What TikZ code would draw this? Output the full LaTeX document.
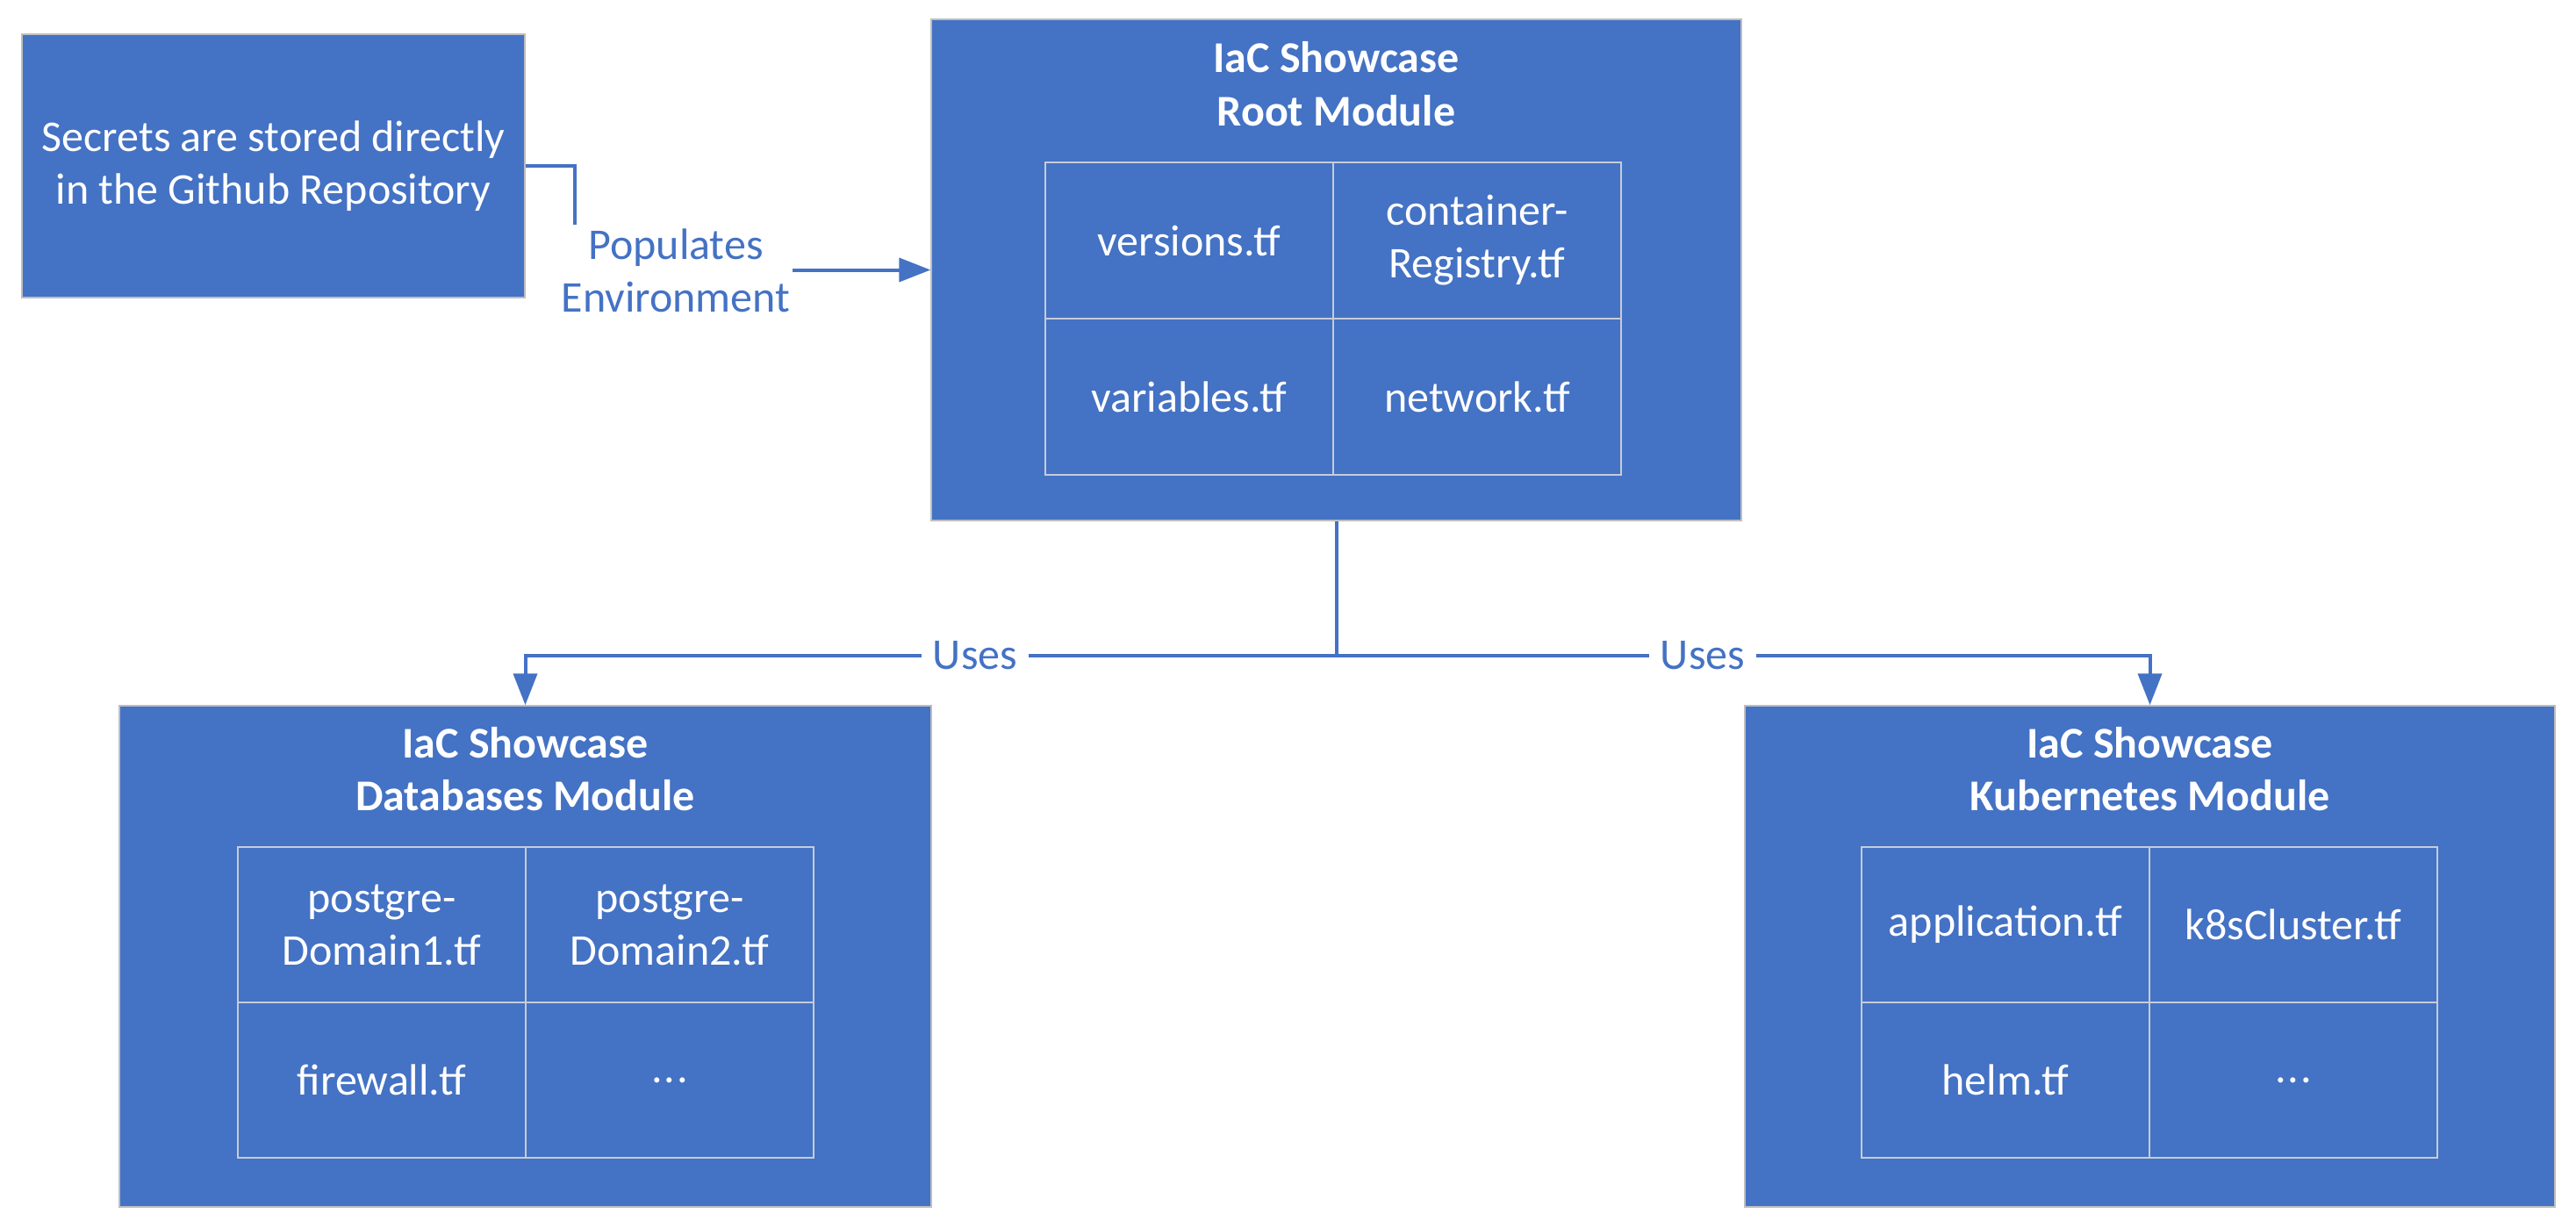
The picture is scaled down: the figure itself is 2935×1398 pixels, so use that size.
\documentclass[tikz,border=0pt]{standalone}
\usepackage{fontspec}
\setmainfont{Carlito}
\usetikzlibrary{arrows.meta}
\definecolor{offblue}{RGB}{68,114,196}
\definecolor{gridgray}{RGB}{198,204,216}
\definecolor{boxedge}{RGB}{190,190,190}
\newcommand{\bigtxt}{\fontsize{50pt}{60pt}\selectfont}
\tikzset{
  mbox/.style={draw=boxedge, line width=1.5pt, fill=offblue, text=white, align=center, inner sep=0pt},
  cell/.style={draw=gridgray, line width=2pt, minimum width=328pt, minimum height=177pt, text=white, align=center, inner sep=0pt, font=\bigtxt},
  ttl/.style={anchor=base, text=white, inner sep=0pt, font=\bigtxt\bfseries},
  conn/.style={draw=offblue, line width=4pt},
  arr/.style={conn, -{Triangle[length=36pt, width=27pt]}},
  lbl/.style={fill=white, text=offblue, align=center, font=\bigtxt, inner ysep=4pt}
}
\begin{document}
\begin{tikzpicture}[x=1pt, y=1pt]
\useasboundingbox (0,0) rectangle (2935,-1398);
\fill[white] (0,0) rectangle (2935,-1398);

% boxes
\node[mbox, minimum width=573pt, minimum height=300pt, font=\bigtxt] (secrets) at (311.5,-189)
  {Secrets are stored directly\\in the Github Repository};
\node[mbox, minimum width=923pt, minimum height=571pt] (root) at (1522.5,-307.5) {};
\node[mbox, minimum width=925pt, minimum height=571pt] (db) at (598.5,-1089.5) {};
\node[mbox, minimum width=923pt, minimum height=571pt] (k8s) at (2449.5,-1089.5) {};

% titles
\node[ttl] (rootT1) at ([yshift=-61pt]root.north) {IaC Showcase};
\node[ttl] (rootT2) at ([yshift=-122pt]root.north) {Root Module};
\node[ttl] (dbT1) at ([yshift=-60pt]db.north) {IaC Showcase};
\node[ttl] (dbT2) at ([yshift=-120pt]db.north) {Databases Module};
\node[ttl] (k8sT1) at ([yshift=-60pt]k8s.north) {IaC Showcase};
\node[ttl] (k8sT2) at ([yshift=-120pt]k8s.north) {Kubernetes Module};

% root grid
\node[cell, minimum height=178pt] (r11) at (1355,-274) {versions.tf};
\node[cell, minimum height=178pt] (r12) at (1683,-274) {container-\\Registry.tf};
\node[cell, minimum height=178pt] (r21) at (1355,-452) {variables.tf};
\node[cell, minimum height=178pt] (r22) at (1683,-452) {network.tf};

% databases grid
\node[cell] (d11) at (435,-1053.5) {postgre-\\Domain1.tf};
\node[cell] (d12) at (763,-1053.5) {postgre-\\Domain2.tf};
\node[cell] (d21) at (435,-1230.5) {firewall.tf};
\node[cell] (d22) at (763,-1230.5) {.\kern2pt.\kern2pt.};

% kubernetes grid
\node[cell] (k11) at (2285,-1053.5) {application.tf};
\node[cell] (k12) at (2613,-1053.5) {k8sCluster.tf};
\node[cell] (k21) at (2285,-1230.5) {helm.tf};
\node[cell] (k22) at (2613,-1230.5) {.\kern2pt.\kern2pt.};

% connectors
\draw[arr] (secrets.east) -- ++(56,0) |- (root.west);
\coordinate (junc) at (1522.5,-747);
\draw[arr] (root.south) -- (junc) -| (db.north);
\draw[arr] (root.south) -- (junc) -| (k8s.north);

% labels
\node[lbl, inner xsep=3pt] (popl) at (770,-308) {Populates\\Environment};
\node[lbl, inner xsep=13pt] (uses1) at (1111,-747) {Uses};
\node[lbl, inner xsep=13pt] (uses2) at (1940,-747) {Uses};
\end{tikzpicture}
\end{document}
